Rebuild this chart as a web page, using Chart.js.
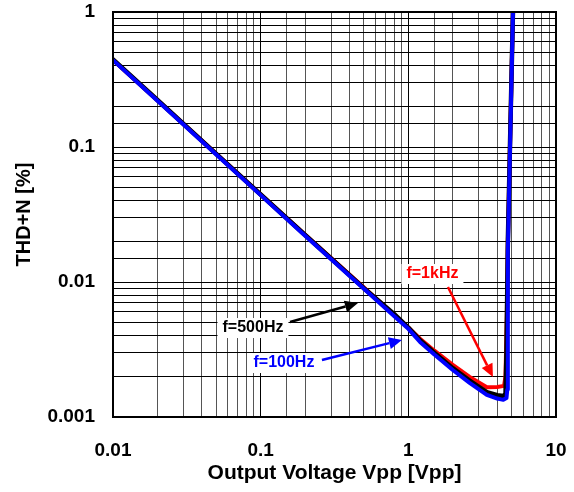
<!DOCTYPE html>
<html>
<head>
<meta charset="utf-8">
<script src="https://cdn.jsdelivr.net/npm/chart.js@4/dist/chart.umd.min.js"></script>
<style>
  body { margin: 0; background: #fff; }
  #wrap { width: 574px; height: 492px; }
</style>
</head>
<body>
<div id="wrap"><canvas id="thdChart" width="574" height="492"></canvas></div>
<script>
/* THD+N vs output voltage, three test frequencies */
const vpp100 = [0.01, 0.02, 0.05, 0.1, 0.2, 0.5, 0.8, 1, 1.2, 1.5, 2, 2.6, 3.4, 4, 4.4, 4.62, 4.68, 4.72, 5.12];
const thd100 = [0.44, 0.22, 0.088, 0.044, 0.022, 0.0089, 0.0056, 0.0045, 0.0036, 0.0029, 0.00223, 0.00179, 0.00146, 0.00137, 0.00134, 0.00138, 0.0016, 0.017, 1.1];

const vpp500 = [0.01, 0.02, 0.05, 0.1, 0.2, 0.5, 0.8, 1, 1.2, 1.5, 2, 2.6, 3.4, 4, 4.4, 4.55, 4.62, 4.72, 5.12];
const thd500 = [0.445, 0.223, 0.089, 0.0445, 0.0223, 0.009, 0.0058, 0.0046, 0.0037, 0.003, 0.0023, 0.00186, 0.00153, 0.00145, 0.00143, 0.00148, 0.003, 0.02, 1.1];

const vpp1k = [0.01, 0.02, 0.05, 0.1, 0.2, 0.5, 0.8, 1, 1.2, 1.5, 2, 2.6, 3.4, 4, 4.45, 4.55, 4.65, 4.72, 5.12];
const thd1k = [0.44, 0.222, 0.089, 0.0445, 0.0224, 0.0091, 0.0057, 0.0046, 0.0038, 0.0031, 0.00243, 0.00198, 0.00166, 0.00167, 0.0017, 0.002, 0.006, 0.02, 1.1];

const xTicks = [0.01, 0.1, 1, 10];
const yTicks = [0.001, 0.01, 0.1, 1];

// label text, colour, label centre, arrow start, arrow tip (data units)
const notes = [
  { text: 'f=1kHz', color: '#ff0000', at: [1.456, 0.01146], from: [1.854, 0.00918], to: [3.74, 0.00198] },
  { text: 'f=500Hz', color: '#000000', at: [0.0887, 0.00456], from: [0.158, 0.00506], to: [0.456, 0.00699] },
  { text: 'f=100Hz', color: '#0000ff', at: [0.1438, 0.00251], from: [0.26, 0.00264], to: [0.905, 0.00372] }
];

const FONT = "'Liberation Sans', Arial, sans-serif";

function toPoints(xs, ys) {
  return xs.map((x, i) => ({ x: x, y: ys[i] }));
}

function isDecade(v) {
  const l = Math.log10(v);
  return Math.abs(l - Math.round(l)) < 1e-6;
}

function decadeLabel(list) {
  return function (value) {
    for (const t of list) {
      if (Math.abs(value - t) / t < 1e-6) return String(t);
    }
    return '';
  };
}

const frame = {
  id: 'frame',
  afterDatasetsDraw(chart) {
    const { ctx, chartArea: a } = chart;
    ctx.save();
    ctx.strokeStyle = '#000';
    ctx.lineWidth = 2;
    ctx.strokeRect(a.left, a.top, a.right - a.left, a.bottom - a.top);
    ctx.restore();
  }
};

const callouts = {
  id: 'callouts',
  afterDatasetsDraw(chart) {
    const ctx = chart.ctx;
    const xs = chart.scales.x;
    const ys = chart.scales.y;
    ctx.save();
    ctx.font = 'bold 16px ' + FONT;
    ctx.textAlign = 'center';
    ctx.textBaseline = 'middle';
    for (const n of notes) {
      const cx = xs.getPixelForValue(n.at[0]);
      const cy = ys.getPixelForValue(n.at[1]);
      const w = ctx.measureText(n.text).width + 10;
      ctx.fillStyle = '#fff';
      ctx.fillRect(cx - w / 2, cy - 10, w, 20);
      ctx.fillStyle = n.color;
      ctx.fillText(n.text, cx, cy);

      const x1 = xs.getPixelForValue(n.from[0]);
      const y1 = ys.getPixelForValue(n.from[1]);
      const x2 = xs.getPixelForValue(n.to[0]);
      const y2 = ys.getPixelForValue(n.to[1]);
      const ang = Math.atan2(y2 - y1, x2 - x1);
      const len = 13;
      const half = 6;
      const bx = x2 - len * Math.cos(ang);
      const by = y2 - len * Math.sin(ang);
      ctx.strokeStyle = n.color;
      ctx.lineWidth = 2.5;
      ctx.beginPath();
      ctx.moveTo(x1, y1);
      ctx.lineTo(bx, by);
      ctx.stroke();
      ctx.beginPath();
      ctx.moveTo(x2, y2);
      ctx.lineTo(bx + half * Math.sin(ang), by - half * Math.cos(ang));
      ctx.lineTo(bx - half * Math.sin(ang), by + half * Math.cos(ang));
      ctx.closePath();
      ctx.fill();
    }
    ctx.restore();
  }
};

const ctx = document.getElementById('thdChart').getContext('2d');
// eslint-disable-next-line no-undef
const chart = new Chart(ctx, {
  type: 'line',
  data: {
    datasets: [
      { label: 'f=1kHz', data: toPoints(vpp1k, thd1k), borderColor: '#ff0000', borderWidth: 4, order: 3 },
      { label: 'f=500Hz', data: toPoints(vpp500, thd500), borderColor: '#000000', borderWidth: 4.5, order: 2 },
      { label: 'f=100Hz', data: toPoints(vpp100, thd100), borderColor: '#0000ff', borderWidth: 4, order: 1 }
    ]
  },
  options: {
    responsive: false,
    animation: false,
    parsing: false,
    layout: { padding: { top: 12, right: 18, bottom: 0, left: 0 } },
    elements: {
      point: { radius: 0 },
      line: { tension: 0, fill: false, borderJoinStyle: 'round', borderCapStyle: 'round' }
    },
    plugins: {
      legend: { display: false },
      tooltip: { enabled: false }
    },
    scales: {
      x: {
        type: 'logarithmic',
        min: 0.01,
        max: 10,
        afterFit(scale) {
          scale.height = 75;
          scale.paddingLeft = 0;
          scale.paddingRight = 0;
        },
        border: { display: false },
        grid: {
          drawTicks: false,
          lineWidth: 1,
          color: (c) => (c.tick && isDecade(c.tick.value) ? '#000' : '#555')
        },
        ticks: {
          autoSkip: false,
          maxRotation: 0,
          padding: 22,
          color: '#000',
          font: { family: FONT, size: 19, weight: 'bold' },
          callback: decadeLabel(xTicks)
        },
        title: {
          display: true,
          text: 'Output Voltage Vpp [Vpp]',
          color: '#000',
          font: { family: FONT, size: 21, weight: 'bold' },
          padding: { top: 0, bottom: 6 }
        }
      },
      y: {
        type: 'logarithmic',
        min: 0.001,
        max: 1,
        afterFit(scale) {
          scale.width = 113;
          scale.paddingTop = 0;
          scale.paddingBottom = 0;
        },
        border: { display: false },
        grid: {
          drawTicks: false,
          lineWidth: 1,
          color: '#000'
        },
        ticks: {
          autoSkip: false,
          padding: 18,
          color: '#000',
          font: { family: FONT, size: 19, weight: 'bold' },
          callback: decadeLabel(yTicks)
        },
        title: {
          display: true,
          text: 'THD+N [%]',
          color: '#000',
          font: { family: FONT, size: 20, weight: 'bold' },
          padding: { top: 12, bottom: 0 }
        }
      }
    }
  },
  plugins: [frame, callouts]
});
</script>
</body>
</html>
